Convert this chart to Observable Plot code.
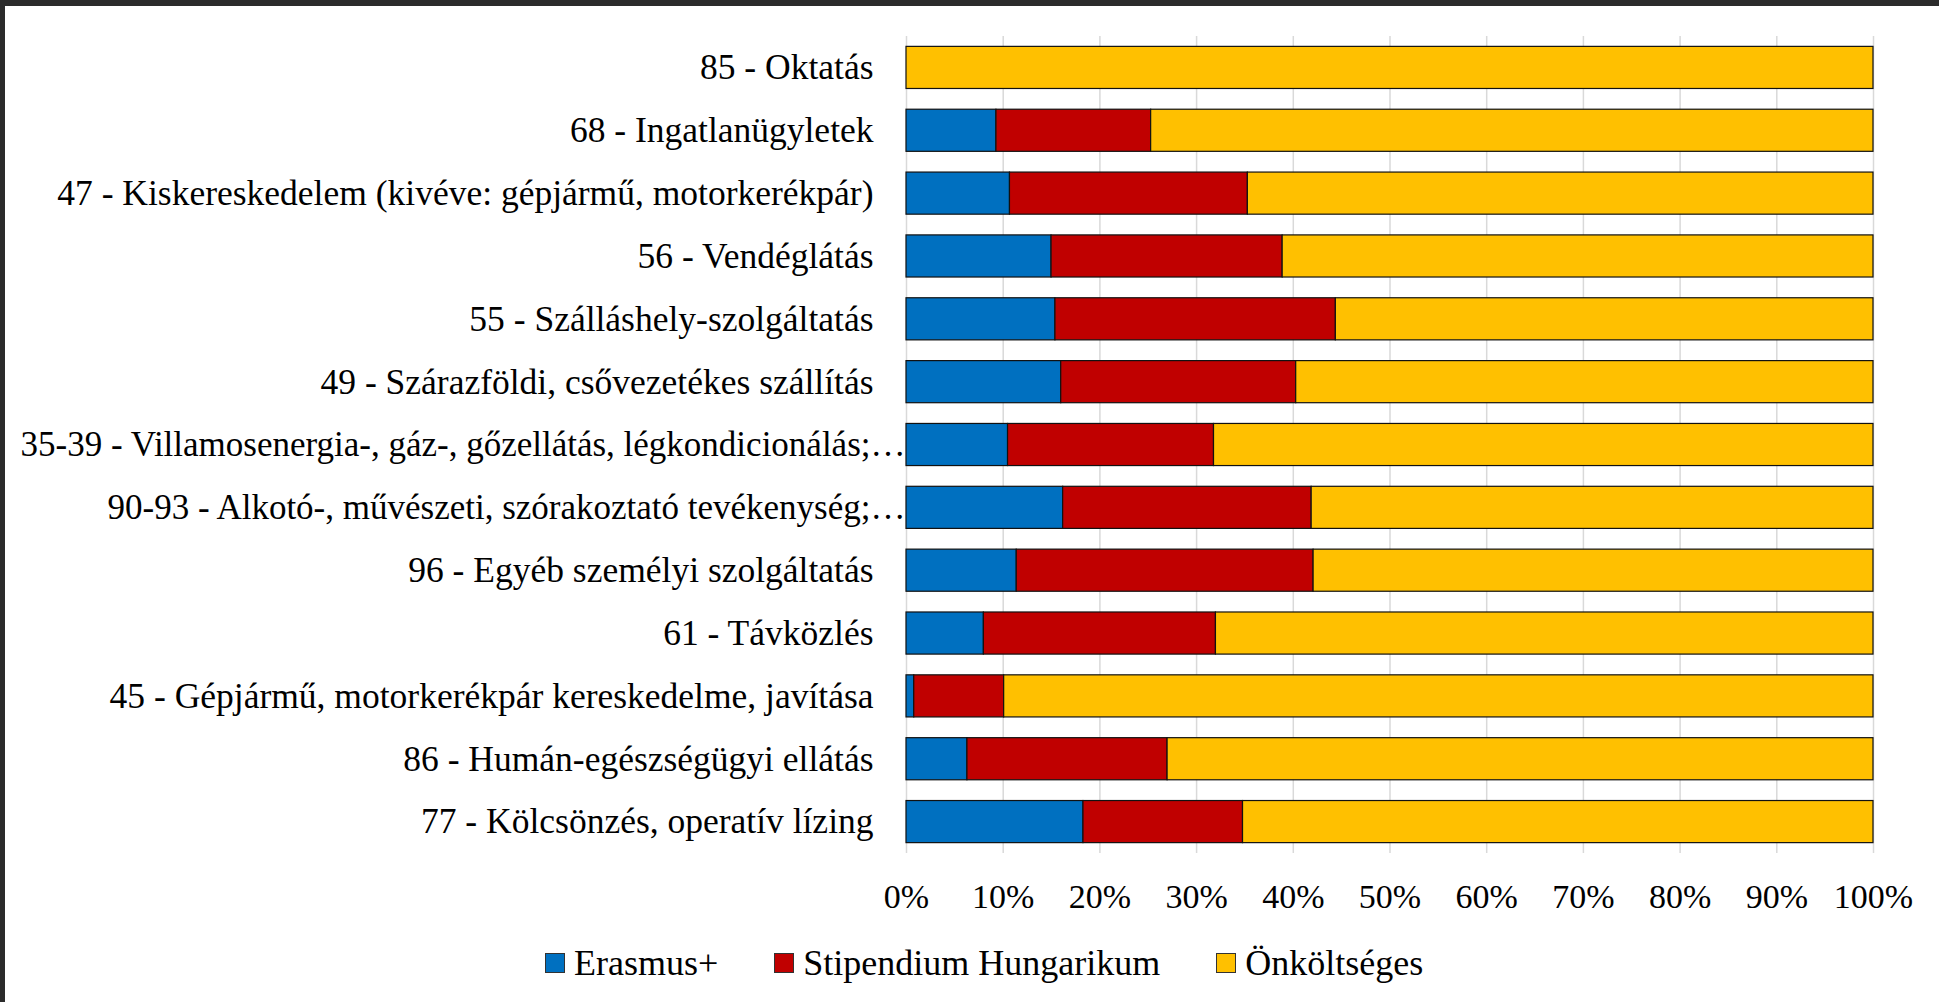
<!DOCTYPE html>
<html>
<head>
<meta charset="utf-8">
<script src="https://cdn.jsdelivr.net/npm/d3@7"></script>
<script src="https://cdn.jsdelivr.net/npm/@observablehq/plot@0.6"></script>
<style>
  html, body { margin: 0; padding: 0; background: #fff; }
  #frame {
    width: 1934px; height: 996px;
    border-top: 6px solid #2b2b2b; border-left: 5px solid #2b2b2b;
    background: #fff; position: relative; overflow: hidden;
  }
  #chart svg { display: block; }
  #legend {
    display: flex; align-items: center; height: 74px;
    padding-left: 540px; gap: 56px;
    font-family: "Liberation Serif", "Tinos", "Times New Roman", "DejaVu Serif", serif;
    font-size: 36px; color: #000;
  }
  .item { display: flex; align-items: center; gap: 9px; }
  .sw { width: 18px; height: 18px; border: 1px solid #333; box-sizing: content-box; }
</style>
</head>
<body>
<div id="frame">
  <div id="chart"></div>
  <div id="legend"></div>
</div>
<script>
const categories = [
  "85 - Oktatás",
  "68 - Ingatlanügyletek",
  "47 - Kiskereskedelem (kivéve: gépjármű, motorkerékpár)",
  "56 - Vendéglátás",
  "55 - Szálláshely-szolgáltatás",
  "49 - Szárazföldi, csővezetékes szállítás",
  "35-39 - Villamosenergia-, gáz-, gőzellátás, légkondicionálás;…",
  "90-93 - Alkotó-, művészeti, szórakoztató tevékenység;…",
  "96 - Egyéb személyi szolgáltatás",
  "61 - Távközlés",
  "45 - Gépjármű, motorkerékpár kereskedelme, javítása",
  "86 - Humán-egészségügyi ellátás",
  "77 - Kölcsönzés, operatív lízing"
];
const series = ["Erasmus+", "Stipendium Hungarikum", "Önköltséges"];
const colors = ["#0070C0", "#C00000", "#FFC000"];

const erasmus     = [0,   9.3, 10.7, 15.0, 15.4, 16.0, 10.5, 16.2, 11.4,  8.0, 0.8,  6.3, 18.3];
const stipendium  = [0,  16.0, 24.6, 23.9, 29.0, 24.3, 21.3, 25.7, 30.7, 24.0, 9.3, 20.7, 16.5];
const onkoltseges = [100, 74.7, 64.7, 61.1, 55.6, 59.7, 68.2, 58.1, 57.9, 68.0, 89.9, 73.0, 65.2];

const xTicks = [0, 10, 20, 30, 40, 50, 60, 70, 80, 90, 100];

const seriesValues = [erasmus, stipendium, onkoltseges];
const rows = [];
categories.forEach((c, i) => {
  series.forEach((s, j) => rows.push({category: c, series: s, value: seriesValues[j][i]}));
});

const serifStack = "'Liberation Serif', 'Tinos', 'Times New Roman', 'DejaVu Serif', serif";

const chart = Plot.plot({
  width: 1934,
  height: 920,
  marginLeft: 901,
  marginRight: 66,
  marginTop: 30,
  marginBottom: 73,
  style: {fontFamily: serifStack, fontSize: "35px", color: "#000", background: "#fff"},
  x: {domain: [0, 100], label: null},
  y: {domain: categories, paddingInner: 0.33, paddingOuter: 0.165, round: false, label: null},
  color: {domain: series, range: colors},
  marks: [
    Plot.gridX(xTicks, {stroke: "#d9d9d9", strokeOpacity: 1, strokeWidth: 1.5}),
    Plot.barX(rows, Plot.stackX({
      x: "value", y: "category", fill: "series", order: series,
      stroke: "#111", strokeWidth: 1.2
    })),
    Plot.axisX(xTicks, {tickSize: 0, tickPadding: 30, tickFormat: d => d + "%", label: null, fontSize: 34, fontFamily: serifStack}),
    Plot.axisY(categories.filter(c => !c.endsWith("…")), {tickSize: 0, tickPadding: 33, label: null, fontSize: 35.5, fontFamily: serifStack}),
    Plot.axisY(categories.filter(c => c.endsWith("…")), {tickSize: 0, tickPadding: 1, label: null, fontSize: 35, fontFamily: serifStack})
  ]
});
document.getElementById("chart").appendChild(chart);

const legend = document.getElementById("legend");
series.forEach((s, i) => {
  const item = document.createElement("div");
  item.className = "item";
  const sw = document.createElement("span");
  sw.className = "sw";
  sw.style.background = colors[i];
  const t = document.createElement("span");
  t.textContent = s;
  item.appendChild(sw);
  item.appendChild(t);
  legend.appendChild(item);
});
</script>
</body>
</html>
